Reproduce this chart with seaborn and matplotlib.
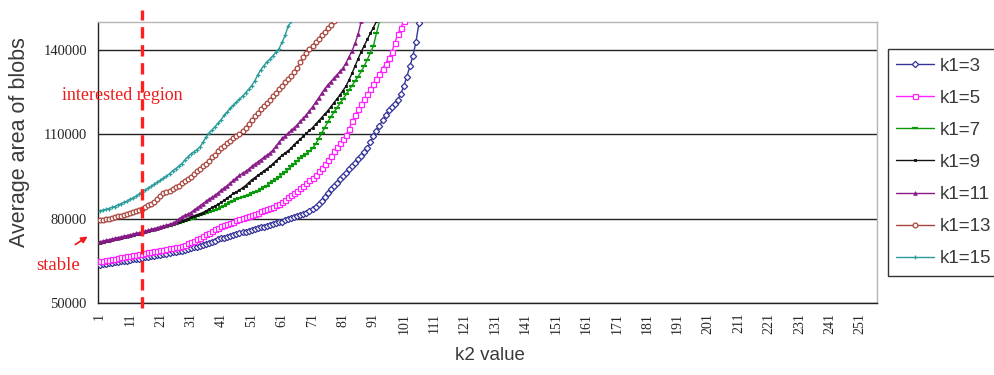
import numpy as np
import pandas as pd
import matplotlib
matplotlib.use("Agg")
import matplotlib.pyplot as plt
import seaborn as sns

# average blob area (in thousands), one value per k2 step starting at k2 = 1
k1_3 = [63.6, 63.8, 64.0, 64.1, 64.3, 64.5, 64.6, 64.8,
        65.0, 65.1, 65.3, 65.5, 65.6, 65.8, 66.0,
        66.2, 66.4, 66.6, 66.8, 67.0, 67.2, 67.4,
        67.6, 67.8, 68.0, 68.2, 68.4, 68.6, 68.9,
        69.2, 69.5, 69.8, 70.1, 70.4, 70.7, 71.0,
        71.4, 71.8, 72.2, 72.6, 73.0, 73.3, 73.6,
        73.9, 74.2, 74.5, 74.8, 75.1, 75.4, 75.7,
        76.0, 76.3, 76.6, 76.9, 77.2, 77.5, 77.8,
        78.1, 78.4, 78.7, 79.0, 79.4, 79.8, 80.2,
        80.6, 81.0, 81.4, 81.8, 82.2, 82.8, 83.4,
        84.2, 85.2, 86.4, 87.6, 89.0, 90.4, 91.6,
        92.8, 94.0, 95.2, 96.4, 97.6, 98.8, 100.0,
        101.2, 102.4, 103.6, 105.0, 107.2, 109.4, 111.2,
        113.0, 115.0, 117.0, 118.6, 119.8, 120.8, 122.4,
        124.4, 127.2, 130.6, 134.2, 138.0, 143.0, 149.8]

k1_5 = [64.8, 65.0, 65.2, 65.4, 65.6, 65.8, 66.0, 66.2,
        66.4, 66.6, 66.8, 67.0, 67.2, 67.4, 67.6,
        67.8, 68.0, 68.2, 68.4, 68.6, 68.8, 69.0,
        69.2, 69.4, 69.6, 69.8, 70.0, 70.4, 70.8,
        71.2, 71.6, 72.0, 72.6, 73.2, 73.8, 74.4,
        75.0, 75.6, 76.2, 76.8, 77.4, 77.8, 78.2,
        78.6, 79.0, 79.4, 79.8, 80.2, 80.6, 81.0,
        81.4, 81.8, 82.2, 82.6, 83.0, 83.4, 83.8,
        84.2, 84.8, 85.4, 86.0, 86.8, 87.6, 88.4,
        89.2, 90.0, 90.8, 91.6, 92.6, 93.6, 94.6,
        95.6, 96.8, 98.0, 99.4, 100.8, 102.4, 104.0,
        105.4, 106.8, 108.2, 109.8, 112.0, 114.6, 117.0,
        119.0, 120.8, 122.6, 124.4, 126.2, 128.0, 129.8,
        131.6, 133.4, 135.2, 137.2, 139.2, 142.4, 145.6, 148.0, 150.2]

k1_7 = [71.3, 71.5, 71.8, 72.0, 72.3, 72.5, 72.8, 73.0,
        73.3, 73.5, 73.8, 74.0, 74.3, 74.5, 74.8,
        75.1, 75.4, 75.7, 76.0, 76.3, 76.6, 76.9,
        77.2, 77.5, 77.8, 78.1, 78.4, 78.8, 79.2,
        79.6, 80.0, 80.4, 80.8, 81.2, 81.6, 82.0,
        82.4, 82.8, 83.2, 83.6, 84.0, 84.6, 85.2,
        85.8, 86.4, 87.0, 87.4, 87.8, 88.2, 88.6,
        89.0, 89.4, 90.0, 90.6, 91.2, 91.8, 92.6,
        93.4, 94.2, 95.0, 95.8, 96.6, 97.6, 98.6,
        99.6, 100.6, 101.6, 102.4, 103.2, 104.0, 105.0,
        106.6, 108.4, 110.4, 112.4, 114.4, 116.2, 117.8,
        119.4, 121.0, 122.6, 124.2, 125.8, 127.4, 129.0,
        130.6, 132.4, 134.4, 136.6, 139.0, 141.4, 146.0, 150.2]

k1_9 = [71.5, 71.7, 72.0, 72.2, 72.5, 72.7, 73.0, 73.2,
        73.5, 73.7, 74.0, 74.2, 74.5, 74.7, 75.0,
        75.3, 75.6, 75.9, 76.2, 76.5, 76.8, 77.1,
        77.4, 77.7, 78.0, 78.4, 78.8, 79.2, 79.6,
        80.0, 80.5, 81.0, 81.4, 81.8, 82.2, 82.8,
        83.4, 84.0, 84.6, 85.2, 85.8, 86.6, 87.4,
        88.2, 89.0, 89.6, 90.2, 91.0, 91.8, 92.8,
        93.8, 94.6, 95.4, 96.2, 97.0, 97.8, 98.6,
        99.6, 100.6, 101.6, 102.6, 103.4, 104.2, 105.2,
        106.4, 107.4, 108.4, 109.4, 110.4, 111.4, 112.4,
        113.6, 114.8, 116.0, 117.2, 118.4, 119.8, 121.2,
        122.6, 124.0, 125.6, 127.2, 129.4, 131.8, 134.4,
        137.0, 139.4, 141.6, 143.8, 146.0, 148.0, 150.2]

k1_11 = [71.8, 72.0, 72.3, 72.5, 72.8, 73.0, 73.3, 73.5,
         73.8, 74.0, 74.3, 74.5, 74.8, 75.0, 75.3,
         75.6, 75.9, 76.2, 76.5, 76.8, 77.1, 77.4,
         77.7, 78.0, 78.4, 79.0, 79.8, 80.6, 81.2,
         81.6, 82.2, 83.0, 83.8, 84.6, 85.4, 86.2,
         87.0, 87.6, 88.4, 89.2, 90.2, 91.0, 91.8,
         92.8, 93.6, 94.6, 95.4, 96.2, 96.8, 97.6,
         98.6, 99.4, 100.2, 101.0, 101.8, 102.6, 103.4,
         104.4, 105.8, 107.2, 108.6, 109.4, 110.4, 111.4,
         112.4, 113.4, 114.6, 115.8, 117.0, 118.4, 119.8,
         121.4, 123.0, 124.6, 126.2, 127.6, 128.8, 130.0,
         131.2, 132.4, 133.6, 135.4, 137.6, 139.8, 142.4, 145.8, 150.2]

k1_13 = [79.4, 79.6, 79.8, 80.0, 80.3, 80.5, 80.8, 81.0,
         81.3, 81.6, 81.9, 82.3, 82.7, 83.2, 83.6,
         84.2, 84.8, 85.4, 86.0, 87.0, 88.2, 89.2,
         89.6, 90.0, 90.6, 91.2, 91.8, 92.6,
         93.4, 94.2, 95.0, 95.8, 96.8, 97.6,
         98.6, 99.6, 100.6, 101.8, 102.8, 104.0, 105.0,
         106.0, 107.0, 107.8, 108.6, 109.6, 110.3, 111.2,
         112.4, 113.8, 115.0, 116.4, 117.6, 119.0, 120.2,
         121.2, 122.4, 123.6, 124.8, 126.0, 127.4, 128.6,
         129.6, 130.8, 132.2, 133.8, 135.6, 137.4, 139.0, 140.4,
         141.6, 142.8, 144.0, 145.4, 146.6, 147.8, 149.0, 150.2]

k1_15 = [82.8, 83.0, 83.3, 83.6, 84.0, 84.3, 84.9, 85.3,
         85.8, 86.2, 86.9, 87.4, 88.0, 88.8, 89.5,
         90.2, 90.9, 91.5, 92.3, 93.0,
         93.6, 94.4, 95.2, 96.0, 97.0,
         97.8, 98.6, 99.6, 100.8, 102.0,
         103.0, 103.8, 104.6, 105.5, 107.2, 109.0, 110.5,
         111.6, 112.8, 114.0, 115.3, 116.8, 118.0, 119.3,
         120.4, 121.4, 122.5, 123.6, 124.8, 126.0,
         127.4, 129.0, 131.2, 133.0,
         134.4, 135.8, 136.8, 138.0, 139.2, 140.5,
         142.8, 145.3, 148.5, 150.2]

series_names = ["k1=3", "k1=5", "k1=7", "k1=9", "k1=11", "k1=13", "k1=15"]
series_values = [k1_3, k1_5, k1_7, k1_9, k1_11, k1_13, k1_15]
x_ticks = list(range(1, 252, 10))
y_ticks = [50000, 80000, 110000, 140000]

# long table for seaborn
frames = []
for name, vals in zip(series_names, series_values):
    frames.append(pd.DataFrame({"k2": np.arange(1, len(vals) + 1),
                                "area": np.array(vals) * 1000,
                                "k1": name}))
df = pd.concat(frames, ignore_index=True)

styles = {
    "k1=3": dict(color="#34349a", marker="D", ms=3.2, mfc="white", mew=0.9),
    "k1=5": dict(color="#ff22ff", marker="s", ms=3.6, mfc="white", mew=0.9),
    "k1=7": dict(color="#0a990a", marker="_", ms=5, mfc="#0a990a", mew=1.6),
    "k1=9": dict(color="#111111", marker="s", ms=1.8, mfc="#111111", mew=0.6),
    "k1=11": dict(color="#8a1a8a", marker="^", ms=2.6, mfc="#8a1a8a", mew=0.6),
    "k1=13": dict(color="#a8443c", marker="o", ms=3.4, mfc="white", mew=0.9),
    "k1=15": dict(color="#2a9c9c", marker="+", ms=3.0, mfc="#2a9c9c", mew=0.9),
}

sns.set_style("white")
serif = ["Liberation Serif", "DejaVu Serif"]
sans = ["Liberation Sans", "DejaVu Sans"]

fig = plt.figure(figsize=(9.95, 3.75), dpi=100)
ax = fig.add_axes([98 / 995, 1 - 303 / 375, 779 / 995, 281 / 375])

for name in series_names:
    st = styles[name]
    sns.lineplot(data=df[df["k1"] == name], x="k2", y="area", ax=ax,
                 color=st["color"], marker=st["marker"], markersize=st["ms"],
                 markerfacecolor=st["mfc"], markeredgecolor=st["color"],
                 markeredgewidth=st["mew"], linewidth=1.0, label=name,
                 errorbar=None, zorder=3)
handles, labels = ax.get_legend_handles_labels()
if ax.get_legend() is not None:
    ax.get_legend().remove()

ax.set_xlim(0.5, 256.5)
ax.set_ylim(50000, 150000)
ax.set_xticks(x_ticks)
ax.set_xticklabels([str(t) for t in x_ticks], rotation=90,
                   fontsize=10, family=serif)
ax.set_xticks(np.arange(0.5, 257, 1), minor=True)
ax.set_yticks(y_ticks)
ax.set_yticklabels([str(t) for t in y_ticks], fontsize=10.5, family=serif)
ax.tick_params(axis="x", which="major", length=0, pad=7)
ax.tick_params(axis="x", which="minor", length=3, width=0.6,
               direction="inout", color="#333333")
ax.tick_params(axis="y", length=4, width=0.8, color="#333333", pad=4)
ax.set_xlabel("")
ax.set_ylabel("")

ax.grid(axis="y", color="#222222", linewidth=1.0, zorder=1)
ax.set_axisbelow(True)
for side in ["left", "bottom"]:
    ax.spines[side].set_color("#222222")
    ax.spines[side].set_linewidth(1.0)
for side in ["top", "right"]:
    ax.spines[side].set_color("#b5b5b5")
    ax.spines[side].set_linewidth(1.0)

# annotations
fig.text(62 / 995, 1 - 95 / 375, "interested region", color="#ee1c1c",
         fontsize=13, family=serif, va="center", ha="left")
fig.text(36 / 995, 1 - 266 / 375, "stable", color="#ee1c1c",
         fontsize=13.5, family=serif, va="center", ha="left")
fig.add_artist(matplotlib.patches.FancyArrowPatch(
    (73 / 995, 1 - 246 / 375), (90 / 995, 1 - 235 / 375),
    transform=fig.transFigure, arrowstyle="-|>", mutation_scale=9,
    color="#ee1c1c", lw=1.3))
ax.plot([15, 15], [48200, 154200], color="#ff1f1f", lw=2.4,
        ls=(0, (3.4, 2.0)), clip_on=False, zorder=5)

fig.text(20 / 995, 1 - 142 / 375, "Average area of blobs", rotation=90,
         fontsize=15.5, family=sans, color="#3a3a3a", ha="center", va="center")
fig.text(490 / 995, 1 - 355 / 375, "k2 value", fontsize=13.5, family=sans,
         color="#3a3a3a", ha="center", va="center")

leg = fig.legend(handles, labels, loc="upper left",
                 bbox_to_anchor=(888 / 995, 1 - 49 / 375),
                 prop={"family": sans, "size": 13.5}, frameon=True,
                 fancybox=False, edgecolor="#333333", labelspacing=0.8,
                 handlelength=2.0, handletextpad=0.3, borderpad=0.45,
                 borderaxespad=0)
leg.get_frame().set_linewidth(1.0)
leg.get_frame().set_alpha(1)
for t in leg.get_texts():
    t.set_color("#3a3a3a")

fig.savefig("out.png", dpi=100)
